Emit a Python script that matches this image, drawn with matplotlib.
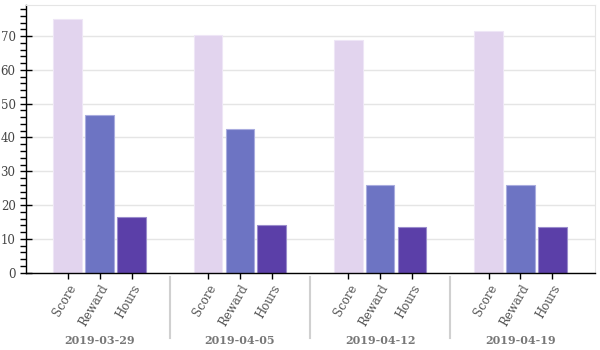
import matplotlib
matplotlib.use('Agg')
import matplotlib.pyplot as plt
from matplotlib.ticker import MultipleLocator
from matplotlib.transforms import blended_transform_factory

weeks = ["2019-03-29", "2019-04-05", "2019-04-12", "2019-04-19"]
metrics = ["Score", "Reward", "Hours"]
score = [75.1, 70.3, 68.8, 71.5]
reward = [46.6, 42.5, 25.9, 26.0]
hours = [16.5, 14.0, 13.4, 13.5]

colors = ["#e2d4ee", "#6d74c3", "#5b3fa8"]
edges = ["#eee6f6", "#a9acdf", "#9a8ccc"]
group_pad = 1.4

fig = plt.figure(figsize=(6, 3.5), dpi=100)
ax = fig.add_axes([26 / 600, 1 - 272.7 / 350, 569 / 600, 267.4 / 350])

series = [score, reward, hours]
xs, labels = [], []
for g, week in enumerate(weeks):
    base = g * (len(metrics) + group_pad)
    for i, name in enumerate(metrics):
        x = base + i + 0.5
        ax.bar(x, series[i][g], width=0.9, color=colors[i],
               edgecolor=edges[i], linewidth=0.8, zorder=2)
        xs.append(x)
        labels.append(name)

ax.set_xlim(-0.81, 17.04)
ax.set_ylim(0, 79.1)

ax.set_xticks(xs)
ax.set_xticklabels(labels, rotation=60, ha="right", va="top",
                   rotation_mode="anchor", family="DejaVu Serif",
                   fontsize=8.5, color="#555555")
ax.yaxis.set_major_locator(MultipleLocator(10))
ax.yaxis.set_minor_locator(MultipleLocator(2))
ax.tick_params(axis="y", which="major", direction="inout", length=8,
               width=1, labelsize=8.5, labelcolor="#444444")
ax.tick_params(axis="y", which="minor", direction="out", length=4, width=1)
ax.tick_params(axis="x", direction="inout", length=8, width=1, pad=3)
for t in ax.get_yticklabels():
    t.set_family("DejaVu Serif")

ax.grid(axis="y", color="#e5e5e5", linewidth=1, zorder=0)
ax.set_axisbelow(True)
for side in ("top", "right"):
    ax.spines[side].set_color("#e5e5e5")
for side in ("left", "bottom"):
    ax.spines[side].set_color("black")
    ax.spines[side].set_linewidth(1)

# group labels and separators below the tick labels
trans = blended_transform_factory(ax.transData, ax.transAxes)
for g, week in enumerate(weeks):
    center = g * (len(metrics) + group_pad) + 1.5
    ax.text(center, -0.252, week, transform=trans, ha="center", va="center",
            family="DejaVu Serif", fontweight="bold", fontsize=8,
            color="#777777")
    if g > 0:
        sep = center - 1.5 - group_pad / 2
        ax.plot([sep, sep], [-0.016, -0.244], transform=trans, color="#d0d0d0",
                linewidth=1.5, clip_on=False)

fig.savefig("out.png", dpi=100)
